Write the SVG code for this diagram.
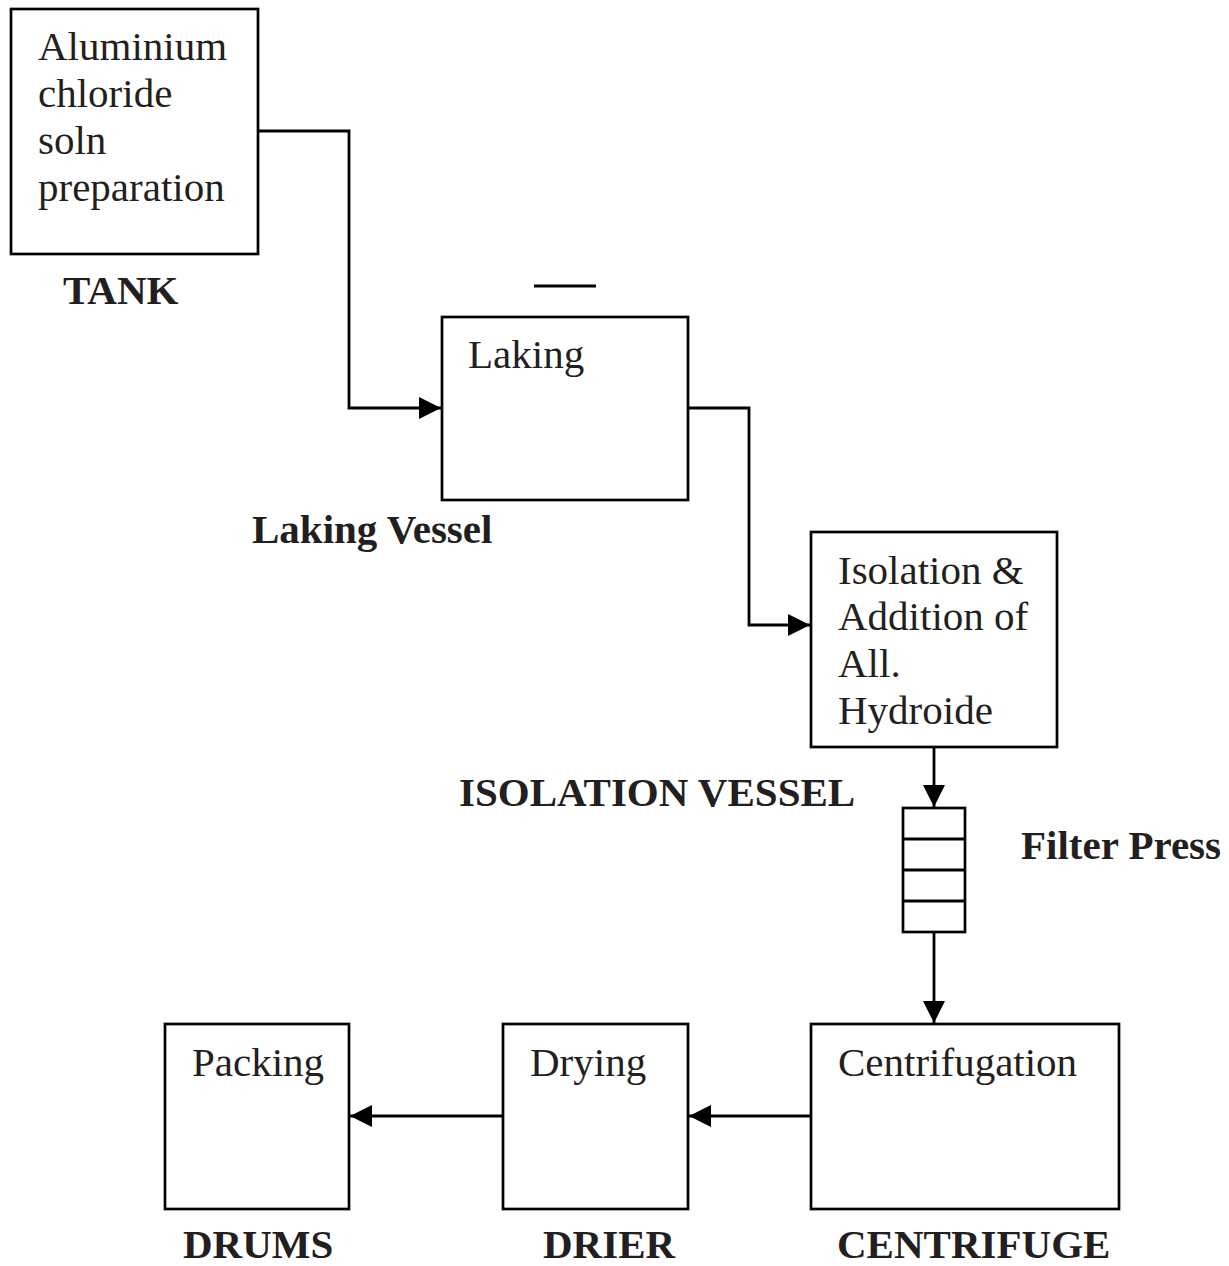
<svg xmlns="http://www.w3.org/2000/svg" width="1229" height="1266" viewBox="0 0 1229 1266">
<style>
.box{fill:#fff;stroke:#000;stroke-width:2.7}
.ln{fill:none;stroke:#000;stroke-width:2.8}
.t{font-family:"Liberation Serif","Times New Roman",serif;font-size:41px;fill:#231f20}
.b{font-family:"Liberation Serif","Times New Roman",serif;font-size:41px;font-weight:bold;fill:#231f20}
</style>
<defs>
<marker id="ah" viewBox="0 0 22 22" refX="22" refY="11" markerWidth="22" markerHeight="22" markerUnits="userSpaceOnUse" orient="auto">
<path d="M0,0 L22,11 L0,22 Z" fill="#000"/>
</marker>
</defs>
<rect width="1229" height="1266" fill="#fff"/>
<g id="connectors">
<polyline class="ln" points="258,131 349,131 349,408 441,408" marker-end="url(#ah)"/>
<polyline class="ln" points="688,408 749,408 749,625 810,625" marker-end="url(#ah)"/>
<line class="ln" x1="934" y1="747" x2="934" y2="807" marker-end="url(#ah)"/>
<line class="ln" x1="934" y1="932" x2="934" y2="1023" marker-end="url(#ah)"/>
<line class="ln" x1="811" y1="1116" x2="689" y2="1116" marker-end="url(#ah)"/>
<line class="ln" x1="503" y1="1116" x2="350" y2="1116" marker-end="url(#ah)"/>
</g>
<g id="tank">
<rect class="box" x="11" y="9" width="247" height="245"/>
<text class="t" x="38" y="60">Aluminium</text>
<text class="t" x="38" y="107">chloride</text>
<text class="t" x="38" y="154">soln</text>
<text class="t" x="38" y="201">preparation</text>
<text class="b" x="63" y="304">TANK</text>
</g>
<g id="laking">
<line class="ln" x1="534" y1="286" x2="596" y2="286"/>
<rect class="box" x="442" y="317" width="246" height="183"/>
<text class="t" x="468" y="368">Laking</text>
<text class="b" x="252" y="543">Laking Vessel</text>
</g>
<g id="isolation">
<rect class="box" x="811" y="532" width="246" height="215"/>
<text class="t" x="838" y="584">Isolation &amp;</text>
<text class="t" x="838" y="630">Addition of</text>
<text class="t" x="838" y="677">All.</text>
<text class="t" x="838" y="724">Hydroide</text>
<text class="b" x="459" y="806">ISOLATION VESSEL</text>
</g>
<g id="filterpress">
<rect class="box" x="903" y="808" width="62" height="124"/>
<line class="ln" x1="903" y1="839" x2="965" y2="839"/>
<line class="ln" x1="903" y1="870" x2="965" y2="870"/>
<line class="ln" x1="903" y1="901" x2="965" y2="901"/>
<text class="b" x="1021" y="859">Filter Press</text>
</g>
<g id="centrifuge">
<rect class="box" x="811" y="1024" width="308" height="185"/>
<text class="t" x="838" y="1076">Centrifugation</text>
<text class="b" x="837" y="1258">CENTRIFUGE</text>
</g>
<g id="drier">
<rect class="box" x="503" y="1024" width="185" height="185"/>
<text class="t" x="530" y="1076">Drying</text>
<text class="b" x="543" y="1258">DRIER</text>
</g>
<g id="drums">
<rect class="box" x="165" y="1024" width="184" height="185"/>
<text class="t" x="192" y="1076">Packing</text>
<text class="b" x="183" y="1258">DRUMS</text>
</g>
</svg>
